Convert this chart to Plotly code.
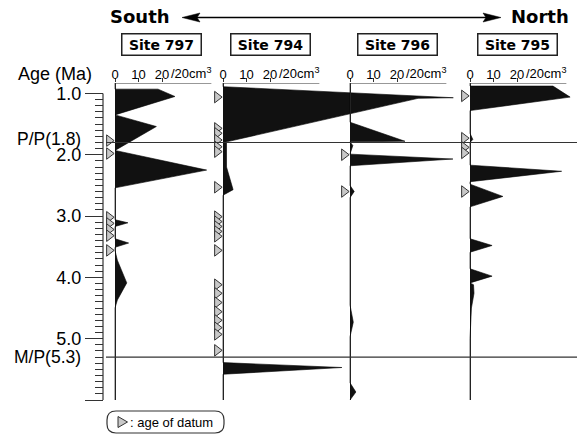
import plotly.graph_objects as go

# ---------------- data ----------------
sites = ["Site 797", "Site 794", "Site 796", "Site 795"]

age_797 = [0.83, 0.93, 0.93, 1.05, 1.35, 1.54, 1.93, 2.25, 2.54, 3.06, 3.11, 3.17,
           3.37, 3.44, 3.51, 3.56, 3.72, 3.93, 4.09, 4.37, 4.5, 6.0]
val_797 = [0, 0, 18.3, 25.5, 0, 17.6, 0, 39, 0, 0, 5.5, 0,
           0, 5.8, 0, 0, 1, 3.2, 5, 1, 0, 0]

age_794 = [0.83, 0.89, 1.07, 1.08, 1.79, 2.2, 2.57, 2.66, 5.39, 5.47, 5.58, 6.0]
val_794 = [0, 0, 98, 83, 1.5, 1.5, 4.3, 0, 0, 50.6, 0, 0]

age_796 = [0.83, 1.47, 1.78, 1.79, 1.85, 1.95, 1.99, 2.07, 2.18, 2.5, 2.6, 2.7,
           4.45, 4.73, 4.97, 5.72, 5.87, 6.0]
val_796 = [0, 0, 23.4, 0, 1.2, 0.5, 0, 43.8, 0, 0, 1.8, 0,
           0, 1.4, 0, 0, 2.5, 0]

age_795 = [0.83, 0.88, 0.88, 1.06, 1.28, 1.65, 1.75, 1.8, 2.17, 2.27, 2.44, 2.48,
           2.68, 2.85, 3.37, 3.48, 3.59, 3.86, 3.98, 4.09, 4.12, 4.26, 4.5, 5.0, 6.0]
val_795 = [0, 0, 35.3, 42.6, 0, 0, 1.2, 0, 0, 39, 0, 0,
           14, 0, 0, 9.4, 0, 0, 9.4, 0, 1.5, 1.7, 0.6, 0, 0]

datum_797 = [1.77, 1.98, 3.02, 3.12, 3.22, 3.32, 3.56]
datum_794 = [1.06, 1.57, 1.65, 1.76, 1.87, 1.95, 2.53, 3.01, 3.09, 3.17, 3.25, 3.33,
             3.56, 4.12, 4.26, 4.41, 4.56, 4.7, 4.82, 4.93, 5.19]
datum_796 = [2.0, 2.6]
datum_795 = [1.04, 1.73, 1.88, 1.97, 2.6]

age_ticks = [1, 2, 3, 4, 5, 6]
age_tick_text = ["1.0", "2.0", "3.0", "4.0", "5.0", ""]
boundaries = [1.8, 5.3]
boundary_labels = ["P/P(1.8)", "M/P(5.3)"]
scale_ticks = [0, 10, 20]
scale_text = ["0", "10", "20"]

ages = [age_797, age_794, age_796, age_795]
vals = [val_797, val_794, val_796, val_795]
datums = [datum_797, datum_794, datum_796, datum_795]

# ---------------- layout geometry ----------------
W, H = 577, 434
TOP, BOT = 83, 400
AGE_TOP, AGE_BOT = 0.83, 6.0
PXU = 2.35                      # pixels per cm3 unit
baselines = [115, 223, 350, 470]
label_cx = [161.5, 270, 397, 517.5]
AXIS_X = 103
FONT = "Liberation Sans, Arial, sans-serif"
BOLD = "DejaVu Sans, sans-serif"
INK = "#222"
TRI_FILL = "#c8c8c8"


def px(p):
    return p / W


def py(p):
    return (BOT - p) / (BOT - TOP)


def poly(points):
    return "M" + " L".join(f"{px(a)},{py(b)}" for a, b in points) + " Z"


fig = go.Figure()
layout_axes = {}
shapes = []
annotations = []

for i, (name, base) in enumerate(zip(sites, baselines)):
    n = "" if i == 0 else str(i + 1)
    xref = "x" + n
    fig.add_trace(go.Scatter(
        x=vals[i], y=ages[i], xaxis=xref, yaxis="y", mode="lines",
        line=dict(color="black", width=0.6), fill="tozerox",
        fillcolor="#111", showlegend=False, hoverinfo="skip"))
    fig.add_trace(go.Scatter(
        x=[-2.5] * len(datums[i]), y=datums[i], xaxis=xref, yaxis="y",
        mode="markers", cliponaxis=False,
        marker=dict(symbol="triangle-right", size=10, color=TRI_FILL,
                    line=dict(color="#333", width=1)),
        showlegend=False, hoverinfo="skip"))
    layout_axes["xaxis" + n] = dict(
        domain=[px(base - 15), 1], range=[-15 / PXU, (W - base) / PXU],
        anchor="y", side="top", showgrid=False, showline=False, automargin=False,
        zeroline=True, zerolinecolor="#333", zerolinewidth=1.3,
        ticks="outside", ticklen=4, tickwidth=1, tickcolor="#333",
        ticklabelstandoff=-6,
        tickmode="array", tickvals=scale_ticks, ticktext=scale_text,
        tickfont=dict(family=FONT, size=13, color="black"), fixedrange=True)
    # scale bar line
    shapes.append(dict(type="line", xref=xref, yref="y", x0=0, x1=41,
                       y0=AGE_TOP, y1=AGE_TOP, line=dict(color="#333", width=1)))
    annotations.append(dict(
        text="/20cm<sup>3</sup>", xref=xref, x=20, xanchor="left", xshift=7,
        yref="paper", y=py(73.5), yanchor="middle", showarrow=False,
        font=dict(family=FONT, size=13, color="black")))
    annotations.append(dict(
        text="<b>%s</b>" % name, xref="paper", x=px(label_cx[i]), xanchor="center",
        yref="paper", y=py(44), yanchor="middle", showarrow=False,
        font=dict(family=BOLD, size=14, color="black"),
        bordercolor=INK, borderwidth=1.5, borderpad=2, width=74, height=16))

minor_vals = [round(1 + k * 0.1, 1) for k in range(51) if k % 10 != 0]
layout_axes["yaxis"] = dict(
    domain=[0, 1], range=[AGE_BOT, AGE_TOP], anchor="free", position=px(AXIS_X),
    side="left", showgrid=False, zeroline=False, showline=False, automargin=False,
    ticks="outside", ticklen=18, tickwidth=1, tickcolor="#333",
    tickmode="array", tickvals=age_ticks, ticktext=age_tick_text,
    tickfont=dict(family=FONT, size=18, color="black"),
    minor=dict(tickmode="array", tickvals=minor_vals, ticks="outside",
               ticklen=8, tickwidth=1, tickcolor="#333"),
    fixedrange=True)

# age axis line
shapes.append(dict(type="line", xref="paper", yref="y", x0=px(AXIS_X), x1=px(AXIS_X),
                   y0=1.0, y1=AGE_BOT, line=dict(color="#333", width=1.2)))
# boundary lines
for b, lab, shift in zip(boundaries, boundary_labels, [3, 0]):
    shapes.append(dict(type="line", xref="paper", yref="y", x0=px(106), x1=1,
                       y0=b, y1=b, line=dict(color="#333", width=1.1)))
    annotations.append(dict(text=lab, xref="paper", x=px(83), xanchor="right",
                            yref="y", y=b, yanchor="middle", yshift=shift,
                            showarrow=False,
                            font=dict(family=FONT, size=17.5, color="black")))

annotations.append(dict(text="Age (Ma)", xref="paper", x=px(55), xanchor="center",
                        yref="paper", y=py(74), yanchor="middle", showarrow=False,
                        font=dict(family=FONT, size=18, color="black")))
annotations.append(dict(text="<b>South</b>", xref="paper", x=px(140), xanchor="center",
                        yref="paper", y=py(17), yanchor="middle", showarrow=False,
                        font=dict(family=BOLD, size=18, color="black")))
annotations.append(dict(text="<b>North</b>", xref="paper", x=px(540), xanchor="center",
                        yref="paper", y=py(17), yanchor="middle", showarrow=False,
                        font=dict(family=BOLD, size=18, color="black")))

# South <-> North arrow
AY = 17.5
shapes.append(dict(type="line", xref="paper", yref="paper", x0=px(195), x1=px(488),
                   y0=py(AY), y1=py(AY), line=dict(color="black", width=1.3)))
shapes.append(dict(type="path", xref="paper", yref="paper",
                   path=poly([(182, AY), (200, AY - 4.5), (197, AY), (200, AY + 4.5)]),
                   fillcolor="black", line=dict(color="black", width=0.5)))
shapes.append(dict(type="path", xref="paper", yref="paper",
                   path=poly([(501, AY), (483, AY - 4.5), (486, AY), (483, AY + 4.5)]),
                   fillcolor="black", line=dict(color="black", width=0.5)))

# key box
r = 9
x0, x1, y0, y1 = px(107), px(224), py(411), py(433)
rx, ry = r / W, r / (BOT - TOP)
path = (f"M{x0+rx},{y0} L{x1-rx},{y0} Q{x1},{y0} {x1},{y0-ry} "
        f"L{x1},{y1+ry} Q{x1},{y1} {x1-rx},{y1} L{x0+rx},{y1} "
        f"Q{x0},{y1} {x0},{y1+ry} L{x0},{y0-ry} Q{x0},{y0} {x0+rx},{y0} Z")
shapes.append(dict(type="path", xref="paper", yref="paper", path=path,
                   line=dict(color="#333", width=1.2)))
shapes.append(dict(type="path", xref="paper", yref="paper",
                   path=poly([(118, 416.5), (127.5, 422), (118, 427.5)]),
                   fillcolor=TRI_FILL, line=dict(color="#333", width=1)))
annotations.append(dict(text=": age of datum", xref="paper", x=px(128), xanchor="left",
                        yref="paper", y=py(422), yanchor="middle", showarrow=False,
                        font=dict(family=FONT, size=13, color="black")))

fig.update_layout(
    template="none",
    width=W, height=H, margin=dict(l=0, r=0, t=TOP, b=H - BOT, pad=0),
    paper_bgcolor="white", plot_bgcolor="rgba(0,0,0,0)",
    shapes=shapes, annotations=annotations, showlegend=False, **layout_axes)

fig.write_html("out.html", config={"displayModeBar": False},
               post_script="document.body.style.margin='0';"
                           "document.body.style.overflow='hidden';")
